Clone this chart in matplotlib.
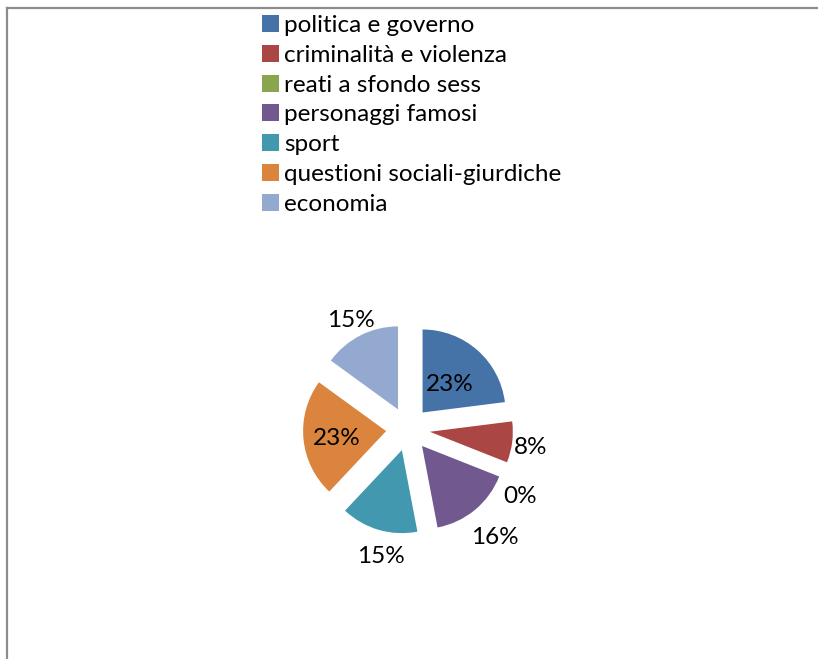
import numpy as np
import matplotlib
matplotlib.use("Agg")
import matplotlib.pyplot as plt
from matplotlib.lines import Line2D

plt.rcParams['font.family'] = ['Lato', 'DejaVu Sans']

# dati
categorie = ["politica e governo", "criminalità e violenza", "reati a sfondo sess",
             "personaggi famosi", "sport", "questioni sociali-giurdiche", "economia"]
valori = [23, 8, 0, 16, 15, 23, 15]
etichette = ["23%", "8%", "0%", "16%", "15%", "23%", "15%"]
colori = ["#4572A7", "#AA4643", "#89A54E", "#71588F", "#4198AF", "#DB843D", "#93A9CF"]

# distanza etichette (in raggi) e piccolo spostamento angolare (gradi)
dist_lab = [0.50, 1.23, 1.30, 1.38, 1.27, 0.60, 1.24]
rot_lab = [0, 0, -10, 0, 5, 0, 0]

W, H = 818, 659
fig = plt.figure(figsize=(W / 100, H / 100), dpi=100)
ax = fig.add_axes([0, 0, 1, 1])

R = 83
centro = (408, H - 429)
wedges, _ = ax.pie(valori, colors=colori, startangle=90, counterclock=False,
                   explode=[22] * len(valori), radius=R, center=centro,
                   wedgeprops=dict(linewidth=0))
ax.set_xlim(0, W)
ax.set_ylim(0, H)
ax.set_aspect('auto')
ax.axis('off')

for w, lab, d, rt in zip(wedges, etichette, dist_lab, rot_lab):
    ang = np.deg2rad((w.theta1 + w.theta2) / 2 + rt)
    x = w.center[0] + d * R * np.cos(ang)
    y = w.center[1] + d * R * np.sin(ang) - 3
    ax.text(x, y, lab, ha='center', va='center', fontsize=17.5, color='black')

leg = ax.legend(wedges, categorie, loc='upper left', frameon=False,
                bbox_to_anchor=(250 / W, 1 - 3 / H), bbox_transform=fig.transFigure,
                fontsize=17.5, handlelength=0.7, handleheight=0.7, handletextpad=0.2,
                labelspacing=0.36, borderpad=0)

# cornice del grafico
fig.add_artist(Line2D([7 / W, 7 / W], [0, 1 - 8 / H], transform=fig.transFigure,
                      color='#8c8c8c', linewidth=1.6))
fig.add_artist(Line2D([7 / W, 1], [1 - 8 / H, 1 - 8 / H], transform=fig.transFigure,
                      color='#8c8c8c', linewidth=1.6))

fig.savefig("out.png", dpi=100)
